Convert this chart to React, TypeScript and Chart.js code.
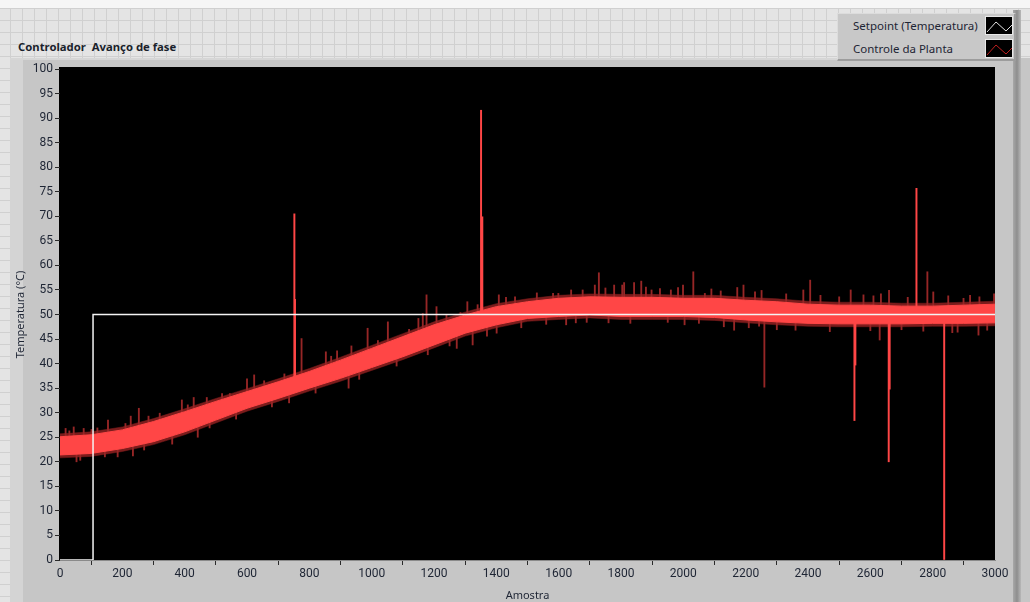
import React, { useEffect, useRef } from "react";
import { Chart, registerables } from "chart.js";

Chart.register(...registerables);

// ---------- data ----------
const chartTitle = "Controlador  Avanço de fase";
const xAxisTitle = "Amostra";
const yAxisTitle = "Temperatura (°C)";
const legendLabels = ["Setpoint (Temperatura)", "Controle da Planta"];

const xMin = 0;
const xMax = 3000;
const xStep = 200;
const yMin = 0;
const yMax = 100;
const yStep = 5;

// setpoint: 0 until the step, then 50
const setpointX = [0, 106, 3000];
const setpointY = [0, 50, 50];

// plant output: dense noisy band, envelope read every 100 samples
const bandSamples = [
  0, 100, 200, 300, 400, 500, 600, 700, 800, 900, 1000, 1100, 1200, 1300, 1400, 1500,
  1600, 1700, 1800, 1900, 2000, 2100, 2200, 2300, 2400, 2500, 2600, 2700, 2800, 2900, 3000,
];
const bandUpper = [
  25.1, 25.5, 26.5, 28.2, 30.2, 32.3, 34.3, 36.3, 38.4, 40.7, 43.1, 45.5, 47.9, 49.9, 51.6, 52.6,
  53.3, 53.6, 53.5, 53.5, 53.3, 53.3, 52.9, 52.6, 52.1, 51.9, 51.9, 51.7, 51.7, 51.9, 52.1,
];
const bandLower = [
  21.4, 21.7, 22.7, 24.1, 26.1, 28.5, 30.9, 32.9, 35.0, 37.0, 39.2, 41.4, 43.8, 46.2, 47.9, 49.2,
  49.6, 49.9, 49.6, 49.6, 49.6, 49.4, 48.9, 48.5, 48.2, 48.1, 48.1, 48.1, 48.2, 48.2, 48.3,
];
const fringeUpper = [
  25.7, 26.1, 27.1, 28.8, 30.8, 32.9, 34.9, 36.9, 39.0, 41.3, 43.7, 46.1, 48.5, 50.5, 52.2, 53.2,
  53.9, 54.2, 54.1, 54.1, 53.9, 53.9, 53.5, 53.2, 52.7, 52.5, 52.5, 52.3, 52.3, 52.5, 52.7,
];
const fringeLower = [
  20.8, 21.1, 22.1, 23.5, 25.5, 27.9, 30.3, 32.3, 34.4, 36.4, 38.6, 40.8, 43.2, 45.6, 47.3, 48.6,
  49.0, 49.3, 49.0, 49.0, 49.0, 48.8, 48.3, 47.9, 47.6, 47.5, 47.5, 47.5, 47.6, 47.6, 47.7,
];

// large isolated excursions
const majorSpikeX = [752, 754, 1351, 1355, 2748, 2549, 2552, 2659, 2662, 2837];
const majorSpikeBase = [35.5, 35.6, 48.9, 49.0, 50.0, 50.0, 50.0, 50.0, 50.0, 50.0];
const majorSpikeTip = [70.5, 53.1, 91.6, 69.9, 75.7, 28.4, 39.7, 20.0, 34.8, 0.0];

// isolated smaller spikes
const minorSpikeX = [
  18, 44, 76, 101, 154, 227, 253, 284, 391, 429, 471, 545, 600, 623, 775, 853, 889, 935, 987,
  1052, 1150, 1164, 1176, 1208, 1285, 1307, 1408, 1431, 1582, 1599, 1677, 1716, 1729, 1778,
  1804, 1810, 1842, 1865, 1898, 1925, 1983, 1999, 2032, 2069, 2173, 2193, 2251, 2385, 2407,
  2537, 2578, 2634, 2660, 2783, 2802, 2899, 2950, 2997,
  53, 144, 234, 442, 926, 1273, 1324, 1401, 1624, 1655, 2004, 2130, 2163, 2243, 2260, 2630,
  2863, 2947,
];
const minorSpikeBase = [
  23.3, 23.4, 23.5, 23.6, 24.0, 24.9, 25.2, 25.8, 28.0, 28.8, 29.7, 31.2, 32.6, 33.0, 36.0, 37.8,
  38.6, 39.6, 40.8, 42.4, 44.6, 45.0, 45.3, 46.0, 47.7, 48.1, 49.8, 50.1, 51.3, 51.4, 51.7, 51.7,
  51.7, 51.6, 51.6, 51.6, 51.6, 51.6, 51.6, 51.5, 51.5, 51.5, 51.4, 51.4, 51.0, 51.0, 50.6, 50.2,
  50.1, 50.0, 50.0, 50.0, 50.0, 50.0, 50.0, 50.0, 50.1, 50.2,
  23.4, 23.9, 24.9, 28.6, 39.4, 47.4, 48.3, 49.8, 51.5, 51.6, 51.4, 51.2, 51.1, 50.7, 50.6, 50.0,
  50.0, 50.1,
];
const minorSpikeTip = [
  26.8, 27.1, 26.8, 26.6, 28.5, 29.3, 30.9, 29.3, 32.6, 33.1, 33.1, 33.9, 36.9, 37.7, 45.1, 42.4,
  42.6, 43.6, 47.2, 48.5, 49.2, 50.2, 54.0, 51.6, 50.4, 52.6, 54.0, 53.5, 54.3, 54.3, 55.0, 56.0,
  58.5, 56.0, 56.0, 56.5, 56.5, 56.8, 55.0, 55.3, 55.5, 56.0, 58.7, 54.3, 55.5, 56.0, 54.9, 55.0,
  57.0, 55.0, 54.0, 54.2, 54.9, 58.7, 54.6, 53.3, 53.6, 54.2,
  20.0, 21.0, 21.2, 25.0, 35.0, 43.1, 43.8, 46.2, 47.9, 48.3, 47.9, 47.5, 46.8, 47.6, 35.2, 44.8,
  46.3, 45.8,
];

// short noise excursions along both edges of the band
const edgeSpikeX = [
  30, 65, 120, 185, 210, 270, 320, 360, 410, 480, 520, 565, 655, 680, 720, 735, 820, 870, 960,
  1020, 1080, 1120, 1180, 1240, 1250, 1340, 1370, 1460, 1480, 1530, 1560, 1640, 1690, 1750,
  1760, 1830, 1880, 1950, 1960, 2050, 2090, 2120, 2210, 2230, 2300, 2330, 2360, 2440, 2470,
  2500, 2600, 2610, 2700, 2720, 2770, 2850, 2880, 2920, 2975,
];
const edgeSpikeBase = [
  23.0, 23.0, 23.8, 24.5, 24.6, 25.8, 26.5, 27.2, 28.2, 30.0, 30.6, 31.6, 34.0, 34.2, 35.0, 35.0,
  37.0, 38.0, 40.0, 41.5, 43.0, 44.0, 45.5, 47.0, 46.5, 48.5, 49.0, 50.5, 50.5, 51.0, 51.3, 51.5,
  51.7, 51.7, 51.6, 51.6, 51.6, 51.5, 51.5, 51.4, 51.4, 51.3, 50.9, 50.9, 50.5, 50.4, 50.3, 50.1,
  50.0, 50.0, 50.0, 50.0, 50.0, 50.0, 50.0, 50.0, 50.1, 50.1, 50.2,
];
const edgeSpikeTip = [
  26.3, 20.3, 26.9, 21.0, 27.8, 22.4, 29.9, 23.6, 31.6, 26.9, 33.9, 28.7, 36.5, 31.2, 37.9, 32.0,
  34.0, 41.5, 36.8, 44.7, 39.5, 47.0, 41.8, 50.0, 43.6, 52.0, 45.6, 53.6, 47.3, 54.4, 48.0, 55.0,
  48.4, 55.4, 48.3, 48.2, 55.6, 48.4, 55.0, 48.2, 55.2, 54.8, 47.3, 54.6, 46.9, 54.2, 46.8, 53.9,
  46.5, 53.6, 46.7, 53.8, 46.9, 53.5, 46.6, 53.8, 46.4, 53.9, 46.8,
];

// ---------- styling ----------
const RED = "rgb(255,70,70)";
const DIM_RED = "rgb(150,38,38)";
const FRINGE_RED = "rgba(130,30,30,0.95)";
const TEXT = "#1e2534";
const UI_FONT = '"Noto Sans", "Open Sans", sans-serif';
const TICK_FONT = 'Roboto, "Noto Sans", sans-serif';

const pts = (xs: number[], ys: number[]) => xs.map((x, i) => ({ x, y: ys[i] }));
const bars = (xs: number[], a: number[], b: number[]) =>
  xs.map((x, i) => ({ x, y: [a[i], b[i]] }));

const plotBackground = {
  id: "plotBackground",
  beforeDraw(chart: any) {
    const { ctx, chartArea } = chart;
    ctx.save();
    ctx.fillStyle = "#000";
    ctx.fillRect(chartArea.left - 1, chartArea.top - 2, chartArea.right - chartArea.left + 1, chartArea.bottom - chartArea.top + 2);
    ctx.restore();
  },
};

function LegendIcon({ color }: { color: string }) {
  return (
    <svg width={28} height={19} style={{ display: "block" }}>
      <rect x={0.5} y={0.5} width={27} height={18} fill="#000" stroke="#e8e8e8" />
      <polyline points="2,16 11,6 21,15 27,9" fill="none" stroke={color} strokeWidth={1} />
    </svg>
  );
}

export default function App() {
  const canvasRef = useRef<HTMLCanvasElement | null>(null);

  useEffect(() => {
    if (!canvasRef.current) return;
    const chart = new Chart(canvasRef.current, {
      type: "line",
      data: {
        datasets: [
          {
            label: legendLabels[0],
            data: pts(setpointX, setpointY),
            borderColor: "#f4f4f4",
            borderWidth: 1.5,
            pointRadius: 0,
            stepped: "before",
            fill: false,
            order: 0,
          } as any,
          {
            label: legendLabels[1],
            data: pts(bandSamples, bandUpper),
            borderColor: RED,
            backgroundColor: RED,
            borderWidth: 1,
            pointRadius: 0,
            fill: "+1",
            order: 1,
          },
          {
            label: "band-lower",
            data: pts(bandSamples, bandLower),
            borderColor: RED,
            borderWidth: 1,
            pointRadius: 0,
            fill: false,
            order: 1,
          },
          {
            label: "fringe-upper",
            data: pts(bandSamples, fringeUpper),
            borderColor: FRINGE_RED,
            backgroundColor: FRINGE_RED,
            borderWidth: 0.5,
            pointRadius: 0,
            fill: "+1",
            order: 5,
          },
          {
            label: "fringe-lower",
            data: pts(bandSamples, fringeLower),
            borderColor: FRINGE_RED,
            borderWidth: 0.5,
            pointRadius: 0,
            fill: false,
            order: 5,
          },
          {
            type: "bar",
            label: "major-spikes",
            data: bars(majorSpikeX, majorSpikeBase, majorSpikeTip),
            backgroundColor: RED,
            barThickness: 1.3,
            grouped: false,
            borderWidth: 0,
            order: 2,
          } as any,
          {
            type: "bar",
            label: "minor-spikes",
            data: bars(minorSpikeX, minorSpikeBase, minorSpikeTip),
            backgroundColor: DIM_RED,
            barThickness: 1.2,
            grouped: false,
            borderWidth: 0,
            order: 3,
          } as any,
          {
            type: "bar",
            label: "edge-spikes",
            data: bars(edgeSpikeX, edgeSpikeBase, edgeSpikeTip),
            backgroundColor: DIM_RED,
            barThickness: 1.2,
            grouped: false,
            borderWidth: 0,
            order: 4,
          } as any,
        ],
      },
      options: {
        animation: false,
        responsive: false,
        maintainAspectRatio: false,
        events: [],
        layout: { padding: { left: 14, top: 69, right: 35, bottom: 0 } },
        plugins: {
          legend: { display: false },
          title: { display: false },
          tooltip: { enabled: false },
        },
        scales: {
          x: {
            type: "linear",
            min: xMin,
            max: xMax,
            offset: false,
            afterFit: (s: any) => {
              s.height = 42;
            },
            border: { display: true, color: "#8a8a8a", width: 1 },
            grid: { drawOnChartArea: false, drawTicks: true, tickLength: 5, color: "#2a2a2a", tickWidth: 1 },
            ticks: {
              stepSize: xStep,
              autoSkip: false,
              maxRotation: 0,
              padding: 2,
              color: TEXT,
              font: { family: TICK_FONT, size: 12 },
              callback: (v: any) => String(v),
            },
            title: {
              display: true,
              text: xAxisTitle,
              color: TEXT,
              font: { family: UI_FONT, size: 11 },
              padding: { top: 0, bottom: 0 },
            },
          },
          y: {
            type: "linear",
            min: yMin,
            max: yMax,
            afterFit: (s: any) => {
              s.width = 46;
            },
            border: { display: false },
            grid: { drawOnChartArea: false, drawTicks: true, tickLength: 5, color: "#2a2a2a", tickWidth: 1 },
            ticks: {
              stepSize: yStep,
              autoSkip: false,
              padding: 2,
              color: TEXT,
              font: { family: TICK_FONT, size: 12 },
              callback: (v: any) => String(v),
            },
            title: {
              display: true,
              text: yAxisTitle,
              color: TEXT,
              font: { family: UI_FONT, size: 11 },
              padding: { top: 0, bottom: 0 },
            },
          },
        },
      } as any,
      plugins: [plotBackground],
    });
    return () => chart.destroy();
  }, []);

  const gridBg: React.CSSProperties = {
    position: "absolute",
    left: 0,
    top: 8,
    width: 1030,
    height: 594,
    backgroundColor: "#e4e4e4",
    backgroundImage:
      "linear-gradient(#d0d0d0 1px, transparent 1px), linear-gradient(90deg, #d0d0d0 1px, transparent 1px)",
    backgroundSize: "12px 12px",
    backgroundPosition: "10px 0px",
  };

  return (
    <div style={{ position: "fixed", left: 0, top: 0, width: 1030, height: 602, overflow: "hidden", background: "#f6f6f6" }}>
      <div style={gridBg} />
      {/* chart frame */}
      <div style={{ position: "absolute", left: 10, top: 58, width: 1020, height: 544, background: "#c6c6c6" }} />
      <div style={{ position: "absolute", left: 10, top: 58, width: 13, height: 544, background: "#d4d4d4" }} />
      <div style={{ position: "absolute", left: 10, top: 58, width: 1003, height: 2, background: "#d6d6d6" }} />
      <div
        style={{
          position: "absolute",
          left: 1013,
          top: 10,
          width: 8,
          height: 592,
          background: "linear-gradient(90deg, #a8a8a8, #8e8e8e 50%, #b8b8b8)",
        }}
      />
      {/* title */}
      <div
        style={{
          position: "absolute",
          left: 18,
          top: 39,
          fontFamily: UI_FONT,
          fontWeight: 700,
          fontSize: 11.3,
          color: "#1a1f2c",
          whiteSpace: "pre",
          lineHeight: "16px",
        }}
      >
        {chartTitle}
      </div>
      {/* legend */}
      <div
        style={{
          position: "absolute",
          left: 837,
          top: 13,
          width: 176,
          height: 45,
          background: "#c8c8c8",
          borderRight: "2px solid #9c9c9c",
          borderBottom: "2px solid #9c9c9c",
          borderTop: "1px solid #dcdcdc",
          borderLeft: "1px solid #dcdcdc",
          fontFamily: UI_FONT,
          fontSize: 11.5,
          color: TEXT,
        }}
      >
        <div style={{ position: "absolute", left: 15, top: 3, lineHeight: "18px", whiteSpace: "nowrap" }}>{legendLabels[0]}</div>
        <div style={{ position: "absolute", left: 15, top: 26, lineHeight: "18px", whiteSpace: "nowrap" }}>{legendLabels[1]}</div>
        <div style={{ position: "absolute", left: 147, top: 2 }}>
          <LegendIcon color="#e0e0e0" />
        </div>
        <div style={{ position: "absolute", left: 147, top: 25 }}>
          <LegendIcon color="#c02020" />
        </div>
      </div>
      <canvas
        ref={canvasRef}
        width={1030}
        height={602}
        style={{ position: "absolute", left: 0, top: 0, width: 1030, height: 602 }}
      />
    </div>
  );
}
